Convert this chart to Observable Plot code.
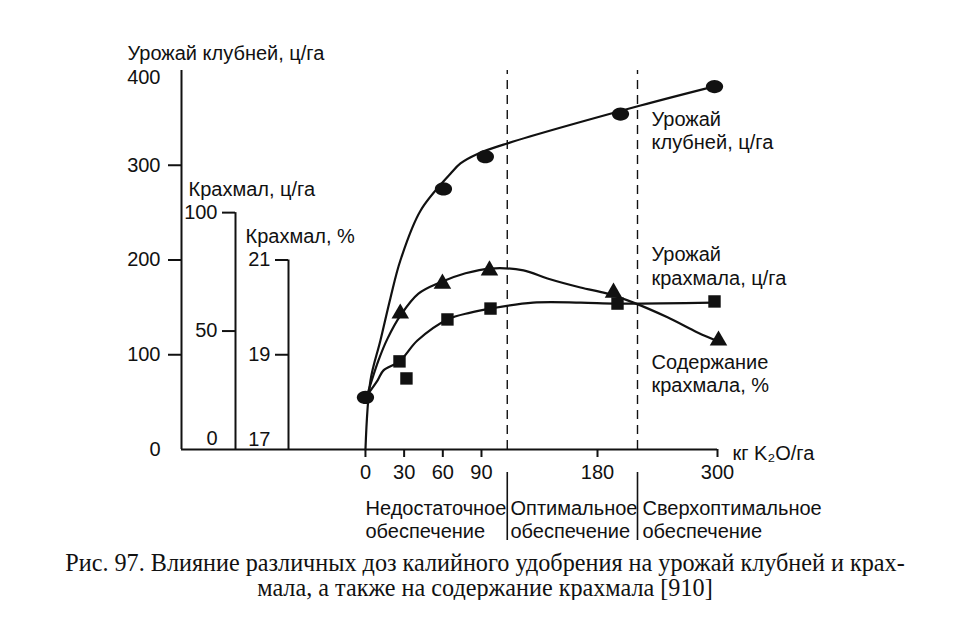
<!DOCTYPE html>
<html><head><meta charset="utf-8">
<script src="https://cdn.jsdelivr.net/npm/d3@7"></script>
<script src="https://cdn.jsdelivr.net/npm/@observablehq/plot@0.6"></script>
<style>
body{margin:0;background:#fff}
svg{display:block}
#cap{font-family:"Liberation Serif","Times New Roman",serif;font-size:24.2px;line-height:25px;text-align:center;width:970px;color:#111}
</style>
</head><body>
<div id="chart"></div>
<div id="cap">Рис. 97. Влияние различных доз калийного удобрения на урожай клубней и крах-<br>мала, а также на содержание крахмала [910]</div>
<script>
// ---- data ----
const doses = [0, 30, 60, 90, 180, 300];          // x tick labels, кг K2O/га
const zoneBounds = [110, 220];                     // dashed boundaries
const zoneLine1 = ["Недостаточное", "Оптимальное", "Сверхоптимальное"];
const zoneLine2 = ["обеспечение", "обеспечение", "обеспечение"];

// Урожай клубней, ц/га (markers)
const tuberX = [0, 60.5, 93, 203, 297];
const tuberY = [55, 275, 309, 354, 383];
// fitted curve for tuber yield
const tuberCurveX = [0, 3.9, 11.6, 19.4, 27.2, 42.7, 65.9, 73.7, 86.9, 110, 223, 296];
const tuberCurveY = [0, 73, 115, 160, 200, 252, 291, 302, 312, 323, 363, 383];

// Урожай крахмала, ц/га (squares)
const starchYieldX = [26.4, 31.8, 63.6, 97, 200, 297];
const starchYieldY = [37.2, 30.0, 54.9, 59.5, 61.6, 62.5];
const starchYieldCurveX = [0, 9.3, 14, 26.4, 40.3, 63.6, 81.5, 97, 130, 167, 200, 296];
const starchYieldCurveY = [22.0, 29.1, 33.4, 37.2, 46.0, 54.9, 57.8, 59.5, 62.0, 62.0, 61.6, 62.0];

// Содержание крахмала, % (triangles)
const starchPctX = [27, 59.7, 96.2, 196, 301];
const starchPctY = [19.87, 20.5, 20.78, 20.31, 19.3];
const starchPctCurveX = [0.8, 10.1, 17.1, 27.2, 41.1, 58.2, 77.6, 97, 122.6, 141.2, 166.8, 190, 216, 250, 280, 301];
const starchPctCurveY = [18.10, 18.88, 19.34, 19.83, 20.29, 20.53, 20.72, 20.82, 20.78, 20.61, 20.42, 20.29, 20.10, 19.79, 19.47, 19.28];

// axes tick values
const mainTicks = [100, 200, 300];
const mainLabels = [0, 100, 200, 300];
const mainTop = 400;
const syTicks = [50, 100];
const syLabels = [50, 100];
const syZero = 0;
const spTicks = [19, 21];
const spLabels = [19, 21];
const spZero = 17;

// ---- secondary-unit mapping onto the shared vertical scale ----
const fromSY = v => v * 2.5;          // ц/га крахмала: 0..100 -> 0..250
const fromSP = p => (p - 17) * 50;    // % крахмала: 17..21 -> 0..200

// ---- scales (same definition given to Plot) ----
const xDomain = [-142.7, 180, 300];
const xRange = [181, 597, 717];
const yDomain = [0, 400];
const yRange = [449, 70];
const xs = d3.scaleLinear(xDomain, xRange);
const ys = d3.scaleLinear(yDomain, yRange);
const X = px => xs.invert(px);
const Y = py => ys.invert(py);

const zip = (a, b, f = v => v) => a.map((x, i) => ({x, y: f(b[i])}));

const axisMain = 181, axisSY = 235, axisSP = 288;
const FS = 20;
const ink = "#111";

const ellipse = {
  draw(ctx, size) {
    const r = Math.sqrt(size / Math.PI), rx = r * 1.15, ry = r * 0.88, k = 0.5523;
    ctx.moveTo(rx, 0);
    ctx.bezierCurveTo(rx, ry * k, rx * k, ry, 0, ry);
    ctx.bezierCurveTo(-rx * k, ry, -rx, ry * k, -rx, 0);
    ctx.bezierCurveTo(-rx, -ry * k, -rx * k, -ry, 0, -ry);
    ctx.bezierCurveTo(rx * k, -ry, rx, -ry * k, rx, 0);
    ctx.closePath();
  }
};

const label = (text, px, py, extra = {}) =>
  Plot.text([{t: text, x: X(px), y: Y(py)}], {x: "x", y: "y", text: "t", textAnchor: "start", lineAnchor: "bottom", fontSize: FS, fill: ink, ...extra});

const tickLabels = (vals, axisPx, map, dx, dy) =>
  Plot.text(vals, {x: () => X(axisPx), y: d => map(d), text: d => String(d), dx, dy, textAnchor: "end", lineAnchor: "middle", fontSize: FS, fill: ink});

const id = v => v;

const chart = Plot.plot({
  width: 975,
  height: 550,
  marginLeft: 181, marginRight: 258, marginTop: 70, marginBottom: 101,
  x: {type: "linear", domain: xDomain, range: xRange, axis: null},
  y: {type: "linear", domain: yDomain, range: yRange, axis: null},
  style: {fontFamily: "'Liberation Sans', Arial, Helvetica, sans-serif", fontSize: FS + "px", background: "#fff", color: ink},
  marks: [
    // dashed zone boundaries
    Plot.ruleX(zoneBounds, {y1: 0, y2: 400, stroke: ink, strokeWidth: 1.4, strokeDasharray: "9,6"}),
    // separators in the zone captions
    Plot.ruleX(zoneBounds, {y1: Y(472), y2: Y(540), stroke: ink, strokeWidth: 1.6}),
    // main axes
    Plot.ruleX([xDomain[0]], {y1: 0, y2: 400, stroke: ink, strokeWidth: 2}),
    Plot.ruleY([0], {x1: xDomain[0], x2: 300, stroke: ink, strokeWidth: 2}),
    Plot.ruleY(mainTicks, {x1: X(axisMain - 13), x2: X(axisMain), stroke: ink, strokeWidth: 2}),
    tickLabels(mainLabels, axisMain, id, -21, 0),
    tickLabels([mainTop], axisMain, id, -21, 7),
    // starch yield axis
    Plot.ruleX([X(axisSY)], {y1: 0, y2: fromSY(100), stroke: ink, strokeWidth: 2}),
    Plot.ruleY(syTicks.map(fromSY), {x1: X(axisSY - 13), x2: X(axisSY), stroke: ink, strokeWidth: 2}),
    tickLabels(syLabels, axisSY, fromSY, -18, 0),
    tickLabels([syZero], axisSY, fromSY, -18, -11),
    // starch % axis
    Plot.ruleX([X(axisSP)], {y1: 0, y2: fromSP(21), stroke: ink, strokeWidth: 2}),
    Plot.ruleY(spTicks.map(fromSP), {x1: X(axisSP - 13), x2: X(axisSP), stroke: ink, strokeWidth: 2}),
    tickLabels(spLabels, axisSP, fromSP, -18, 0),
    tickLabels([spZero], axisSP, fromSP, -18, -10),
    // x ticks and labels
    Plot.ruleX(doses, {y1: 0, y2: Y(457), stroke: ink, strokeWidth: 2}),
    Plot.text(doses, {x: d => d, y: () => Y(478), text: d => String(d), lineAnchor: "bottom", fontSize: FS, fill: ink}),
    label("кг K₂O/га", 732, 459),
    // zone captions
    Plot.text(zoneLine1.map((t, i) => ({t, x: [X(365), X(510), X(642)][i]})), {x: "x", y: () => Y(514), text: "t", textAnchor: "start", lineAnchor: "bottom", fontSize: FS, fill: ink}),
    Plot.text(zoneLine2.map((t, i) => ({t, x: [X(365), X(510), X(642)][i]})), {x: "x", y: () => Y(537), text: "t", textAnchor: "start", lineAnchor: "bottom", fontSize: FS, fill: ink}),
    // axis titles
    label("Урожай клубней, ц/га", 127, 59),
    label("Крахмал, ц/га", 188, 195),
    label("Крахмал, %", 245, 242),
    // series labels
    label("Урожай", 651, 125),
    label("клубней, ц/га", 651, 148),
    label("Урожай", 651, 260),
    label("крахмала, ц/га", 651, 284),
    label("Содержание", 651, 368),
    label("крахмала, %", 651, 391),
    // curves
    Plot.line(zip(tuberCurveX, tuberCurveY), {x: "x", y: "y", curve: "catmull-rom", stroke: ink, strokeWidth: 2.2}),
    Plot.line(zip(starchYieldCurveX, starchYieldCurveY, fromSY), {x: "x", y: "y", curve: "catmull-rom", stroke: ink, strokeWidth: 2.2}),
    Plot.line(zip(starchPctCurveX, starchPctCurveY, fromSP), {x: "x", y: "y", curve: "catmull-rom", stroke: ink, strokeWidth: 2.2}),
    // markers
    Plot.dot(zip(tuberX, tuberY), {x: "x", y: "y", r: 7.5, symbol: ellipse, fill: ink, stroke: "none"}),
    Plot.dot(zip(starchYieldX, starchYieldY, fromSY), {x: "x", y: "y", r: 7, symbol: "square", fill: ink, stroke: "none"}),
    Plot.dot(zip(starchPctX, starchPctY, fromSP), {x: "x", y: "y", r: 6.5, symbol: "triangle", fill: ink, stroke: "none"})
  ]
});
document.getElementById("chart").append(chart);
</script>
</body></html>
